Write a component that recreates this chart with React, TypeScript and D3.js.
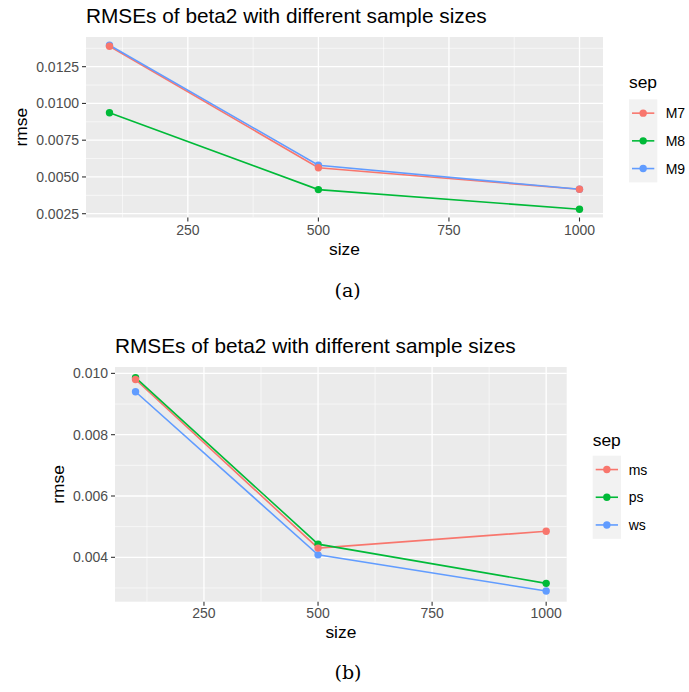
import React from 'react';
import * as d3 from 'd3';

const sizes = [100, 500, 1000];

// panel (a)
const sepA = ['M7', 'M8', 'M9'];
const m7 = [0.01389, 0.00563, 0.00416];
const m8 = [0.00937, 0.00414, 0.0028];
const m9 = [0.01396, 0.0058, 0.00416];
const yTicksA = [0.0025, 0.005, 0.0075, 0.01, 0.0125];

// panel (b)
const sepB = ['ms', 'ps', 'ws'];
const ms = [0.0098, 0.0043, 0.00485];
const ps = [0.00986, 0.00443, 0.00315];
const ws = [0.0094, 0.00408, 0.0029];
const yTicksB = [0.004, 0.006, 0.008, 0.01];

const xTicks = [250, 500, 750, 1000];
const colors = ['#F8766D', '#00BA38', '#619CFF'];
const SANS = '"Liberation Sans", Arial, sans-serif';

function expand(ext: number[]) {
  const pad = (ext[1] - ext[0]) * 0.05;
  return [ext[0] - pad, ext[1] + pad];
}

function midpoints(ticks: number[], lo: number, hi: number) {
  const step = ticks[1] - ticks[0];
  const all = [ticks[0] - step, ...ticks, ticks[ticks.length - 1] + step];
  const out: number[] = [];
  for (let i = 0; i < all.length - 1; i++) {
    const m = (all[i] + all[i + 1]) / 2;
    if (m > lo && m < hi) out.push(m);
  }
  return out;
}

type PanelProps = {
  series: number[][];
  labels: string[];
  yTicks: number[];
  fmt: string;
  box: { x0: number; x1: number; y0: number; y1: number };
  titleY: number;
  xLabY: number;
  xTitleY: number;
  yTitleX: number;
  legend: { x: number; titleY: number; top: number; row: number; labelX: number };
};

function Panel({ series, labels, yTicks, fmt, box, titleY, xLabY, xTitleY, yTitleX, legend }: PanelProps) {
  const x = d3.scaleLinear().domain(expand(d3.extent(sizes) as number[])).range([box.x0, box.x1]);
  const yDom = expand(d3.extent(series.flat()) as number[]);
  const y = d3.scaleLinear().domain(yDom).range([box.y1, box.y0]);
  const line = d3.line<number>().x((_, i) => x(sizes[i])).y(d => y(d));
  const f = d3.format(fmt);
  const xMinor = midpoints(xTicks, x.domain()[0], x.domain()[1]);
  const yMinor = midpoints(yTicks, yDom[0], yDom[1]);

  return (
    <g>
      <text x={box.x0} y={titleY} fontFamily={SANS} fontSize={20.8} fill="#000">
        RMSEs of beta2 with different sample sizes
      </text>
      <rect x={box.x0} y={box.y0} width={box.x1 - box.x0} height={box.y1 - box.y0} fill="#EBEBEB" />
      {yMinor.map(t => (
        <line key={'ym' + t} x1={box.x0} x2={box.x1} y1={y(t)} y2={y(t)} stroke="#fff" strokeWidth={0.6} />
      ))}
      {xMinor.map(t => (
        <line key={'xm' + t} y1={box.y0} y2={box.y1} x1={x(t)} x2={x(t)} stroke="#fff" strokeWidth={0.6} />
      ))}
      {yTicks.map(t => (
        <line key={'y' + t} x1={box.x0} x2={box.x1} y1={y(t)} y2={y(t)} stroke="#fff" strokeWidth={1.3} />
      ))}
      {xTicks.map(t => (
        <line key={'x' + t} y1={box.y0} y2={box.y1} x1={x(t)} x2={x(t)} stroke="#fff" strokeWidth={1.3} />
      ))}
      {series.map((s, i) => (
        <path key={'l' + i} d={line(s) || ''} fill="none" stroke={colors[i]} strokeWidth={1.6} />
      ))}
      {series.map((s, i) => ({ s, i })).reverse().map(({ s, i }) =>
        s.map((v, j) => <circle key={'p' + i + '-' + j} cx={x(sizes[j])} cy={y(v)} r={3.7} fill={colors[i]} />)
      )}
      {yTicks.map(t => (
        <g key={'yt' + t}>
          <line x1={box.x0 - 4} x2={box.x0} y1={y(t)} y2={y(t)} stroke="#333" strokeWidth={1.1} />
          <text x={box.x0 - 7} y={y(t)} dy="0.36em" textAnchor="end" fontFamily={SANS} fontSize={14} fill="#4D4D4D">
            {f(t)}
          </text>
        </g>
      ))}
      {xTicks.map(t => (
        <g key={'xt' + t}>
          <line y1={box.y1} y2={box.y1 + 4} x1={x(t)} x2={x(t)} stroke="#333" strokeWidth={1.1} />
          <text x={x(t)} y={xLabY} textAnchor="middle" fontFamily={SANS} fontSize={14} fill="#4D4D4D">
            {t}
          </text>
        </g>
      ))}
      <text x={(box.x0 + box.x1) / 2} y={xTitleY} textAnchor="middle" fontFamily={SANS} fontSize={17.4} fill="#000">
        size
      </text>
      <text
        transform={`translate(${yTitleX},${(box.y0 + box.y1) / 2}) rotate(-90)`}
        textAnchor="middle"
        fontFamily={SANS}
        fontSize={17.4}
        fill="#000"
      >
        rmse
      </text>
      <text x={legend.x} y={legend.titleY} fontFamily={SANS} fontSize={17.4} fill="#000">sep</text>
      <rect x={legend.x} y={legend.top} width={28.3} height={legend.row * labels.length} fill="#F2F2F2" />
      {labels.map((lab, i) => {
        const cy = legend.top + legend.row * (i + 0.5);
        return (
          <g key={lab}>
            <line x1={legend.x + 3} x2={legend.x + 25.3} y1={cy} y2={cy} stroke={colors[i]} strokeWidth={1.6} />
            <circle cx={legend.x + 14.15} cy={cy} r={3.7} fill={colors[i]} />
            <text x={legend.labelX} y={cy} dy="0.36em" fontFamily={SANS} fontSize={14} fill="#000">{lab}</text>
          </g>
        );
      })}
    </g>
  );
}

export default function App() {
  return (
    <svg width={689} height={692} style={{ position: 'absolute', left: 0, top: 0, background: '#fff' }}>
      <Panel
        series={[m7, m8, m9]}
        labels={sepA}
        yTicks={yTicksA}
        fmt=".4f"
        box={{ x0: 86, x1: 603, y0: 37, y1: 217.5 }}
        titleY={23}
        xLabY={235}
        xTitleY={255}
        yTitleX={26.5}
        legend={{ x: 629, titleY: 88.3, top: 99.3, row: 27.7, labelX: 665.7 }}
      />
      <text x={347.7} y={296.5} textAnchor="middle" fontFamily='"DejaVu Serif", serif' fontSize={19} fill="#000">(a)</text>
      <Panel
        series={[ms, ps, ws]}
        labels={sepB}
        yTicks={yTicksB}
        fmt=".3f"
        box={{ x0: 115, x1: 566.7, y0: 367, y1: 601.7 }}
        titleY={353}
        xLabY={618.3}
        xTitleY={638.3}
        yTitleX={63.5}
        legend={{ x: 592.7, titleY: 446, top: 455.7, row: 27.7, labelX: 628.7 }}
      />
      <text x={348} y={678.5} textAnchor="middle" fontFamily='"DejaVu Serif", serif' fontSize={19} fill="#000">(b)</text>
    </svg>
  );
}
